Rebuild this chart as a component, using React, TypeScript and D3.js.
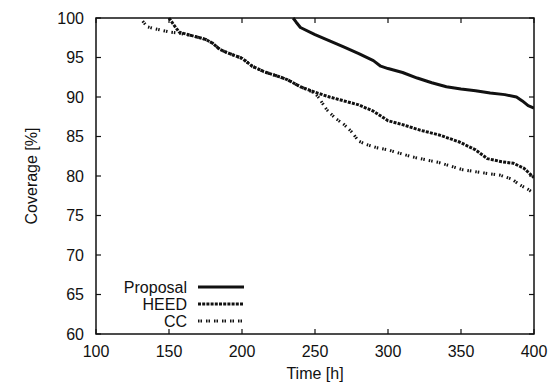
import React from "react";
import * as d3 from "d3";

// time [h] / coverage [%]
const proposalTime = [235, 237, 240, 250, 260, 270, 280, 290, 295, 300, 310, 320, 330, 340, 350, 360, 370, 380, 388, 392, 396, 400];
const proposalCov = [100, 99.5, 98.8, 97.9, 97.1, 96.3, 95.5, 94.6, 93.9, 93.6, 93.1, 92.4, 91.8, 91.3, 91.0, 90.8, 90.5, 90.3, 90.0, 89.5, 88.9, 88.6];

const heedTime = [150, 153, 157, 165, 175, 180, 185, 190, 200, 207, 215, 225, 231, 240, 250, 260, 270, 280, 290, 300, 310, 322, 335, 349, 360, 368, 378, 386, 393, 397, 400];
const heedCov = [100, 99.2, 98.2, 97.8, 97.3, 96.8, 96.0, 95.6, 94.9, 93.9, 93.2, 92.6, 92.2, 91.3, 90.6, 90.0, 89.5, 89.0, 88.2, 87.0, 86.5, 85.8, 85.2, 84.3, 83.3, 82.2, 81.8, 81.6, 81.0, 80.3, 79.8];

const ccTime = [132, 135, 139, 146, 151, 156, 165, 175, 180, 185, 190, 200, 207, 215, 225, 231, 240, 250, 253, 258, 264, 270, 275, 280, 285, 292, 300, 317, 335, 351, 365, 377, 385, 390, 396, 400];
const ccCov = [99.6, 98.9, 98.7, 98.4, 98.2, 98.1, 97.8, 97.3, 96.8, 96.0, 95.6, 94.9, 93.9, 93.2, 92.6, 92.2, 91.3, 90.5, 89.8, 88.4, 87.3, 86.5, 85.6, 84.4, 84.0, 83.6, 83.3, 82.4, 81.7, 80.8, 80.4, 80.1, 79.6, 78.9, 78.3, 77.8];

const xTicks = [100, 150, 200, 250, 300, 350, 400];
const yTicks = [60, 65, 70, 75, 80, 85, 90, 95, 100];

const seriesNames = ["Proposal", "HEED", "CC"];
const dashes = ["none", "3,1.2", "1.5,1,1.5,4"];

export default function App() {
  const W = 554;
  const H = 387;
  const left = 96, right = 534, top = 18, bottom = 334;

  const x = d3.scaleLinear().domain([100, 400]).range([left, right]);
  const y = d3.scaleLinear().domain([60, 100]).range([bottom, top]);

  const line = d3.line<[number, number]>()
    .x(d => x(d[0]))
    .y(d => y(d[1]));

  const series = [
    proposalTime.map((t, i) => [t, proposalCov[i]] as [number, number]),
    heedTime.map((t, i) => [t, heedCov[i]] as [number, number]),
    ccTime.map((t, i) => [t, ccCov[i]] as [number, number]),
  ];

  const font = "'Liberation Sans', Arial, sans-serif";
  const tickLen = 5;

  return (
    <div style={{ position: "fixed", left: 0, top: 0 }}>
      <svg width={W} height={H} style={{ display: "block", background: "#fff" }} fontFamily={font}>
        <defs>
          <clipPath id="plot">
            <rect x={left} y={top - 1} width={right - left} height={bottom - top + 1} />
          </clipPath>
        </defs>

        {/* ticks, mirrored inward on all sides */}
        {xTicks.map(t => (
          <g key={"x" + t}>
            <line x1={x(t)} x2={x(t)} y1={bottom} y2={bottom - tickLen} stroke="#111" strokeWidth={1.2} />
            <line x1={x(t)} x2={x(t)} y1={top} y2={top + tickLen} stroke="#111" strokeWidth={1.2} />
            <text x={x(t)} y={357} textAnchor="middle" fontSize={16} fill="#111">{t}</text>
          </g>
        ))}
        {yTicks.map(t => (
          <g key={"y" + t}>
            <line x1={left} x2={left + tickLen} y1={y(t)} y2={y(t)} stroke="#111" strokeWidth={1.2} />
            <line x1={right} x2={right - tickLen} y1={y(t)} y2={y(t)} stroke="#111" strokeWidth={1.2} />
            <text x={84} y={y(t)} dy="0.35em" textAnchor="end" fontSize={16} fill="#111">{t}</text>
          </g>
        ))}

        {/* series */}
        <g clipPath="url(#plot)">
          {series.map((s, i) => (
            <path key={i} d={line(s) || ""} fill="none" stroke="#111"
              strokeWidth={3} strokeDasharray={dashes[i]} strokeLinejoin="round" />
          ))}
        </g>

        {/* frame */}
        <rect x={left} y={top} width={right - left} height={bottom - top} fill="none" stroke="#111" strokeWidth={1.5} />

        {/* legend */}
        {seriesNames.map((name, i) => {
          const ly = 287 + i * 17;
          return (
            <g key={name}>
              <text x={187} y={ly} dy="0.35em" textAnchor="end" fontSize={16} fill="#111">{name}</text>
              <line x1={198} x2={244} y1={ly} y2={ly} stroke="#111" strokeWidth={3} strokeDasharray={dashes[i]} />
            </g>
          );
        })}

        {/* axis titles */}
        <text x={(left + right) / 2} y={379} textAnchor="middle" fontSize={16} fill="#111">Time [h]</text>
        <text transform={`translate(37, ${(top + bottom) / 2}) rotate(-90)`} textAnchor="middle" fontSize={16} fill="#111">Coverage [%]</text>
      </svg>
    </div>
  );
}
